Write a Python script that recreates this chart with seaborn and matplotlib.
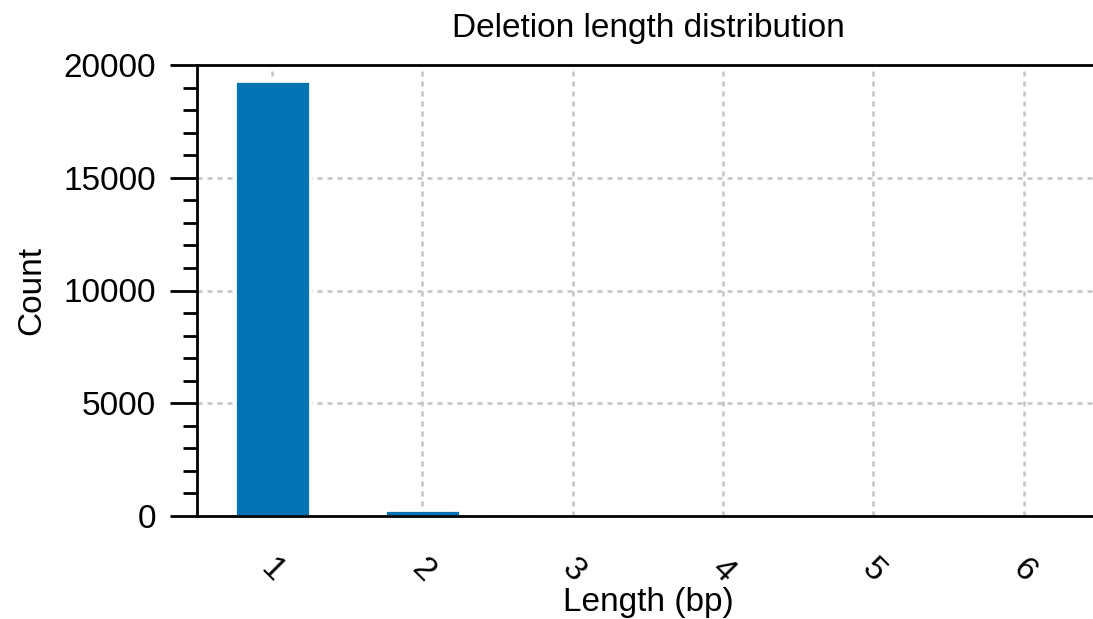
import matplotlib
matplotlib.use("Agg")
import matplotlib.pyplot as plt
from matplotlib.ticker import MultipleLocator
import seaborn as sns
import pandas as pd

lengths = ["1", "2", "3", "4", "5", "6"]
counts = [19300, 250, 15, 3, 1, 1]

sns.set_theme(style="ticks")
plt.rcParams['font.family'] = ['Liberation Sans', 'DejaVu Sans']
plt.rcParams.update({
    "text.color": "black",
    "axes.labelcolor": "black",
    "xtick.color": "black",
    "ytick.color": "black",
})

df = pd.DataFrame({"Length": lengths, "Count": counts})

fig = plt.figure(figsize=(1093 / 200, 619 / 200), dpi=200)
ax = fig.add_axes([197 / 1093, (619 - 516) / 619, (1099 - 197) / 1093, (516 - 65) / 619])

sns.barplot(data=df, x="Length", y="Count", color="#0173B2", saturation=1,
            width=0.5, ax=ax, zorder=3)

ax.set_xlim(-0.5, 5.5)
ax.set_ylim(0, 20000)
ax.yaxis.set_major_locator(MultipleLocator(5000))
ax.yaxis.set_minor_locator(MultipleLocator(1000))

for s in ax.spines.values():
    s.set_linewidth(1.0)
    s.set_color("black")
    s.set_zorder(5)

ax.grid(True, which="major", color="#c4c4c4", linestyle=(0, (2.0, 2.0)), linewidth=0.9, zorder=0)
ax.set_axisbelow(True)

ax.tick_params(axis="y", which="major", length=9.7, width=1.0, pad=5, labelsize=12, colors="black")
ax.tick_params(axis="y", which="minor", length=5, width=1.0, colors="black")
ax.tick_params(axis="x", which="major", length=0, pad=13.5, labelsize=12, colors="black")
for lab in ax.get_xticklabels():
    lab.set_rotation(-45)
    lab.set_ha("center")

ax.set_xlabel("Length (bp)", fontsize=12, color="black")
ax.xaxis.set_label_coords(0.5, -0.157)
ax.set_ylabel("Count", fontsize=12, labelpad=6, color="black")
ax.set_title("Deletion length distribution", fontsize=12, pad=10, color="black")

fig.savefig("out.png", dpi=200)
